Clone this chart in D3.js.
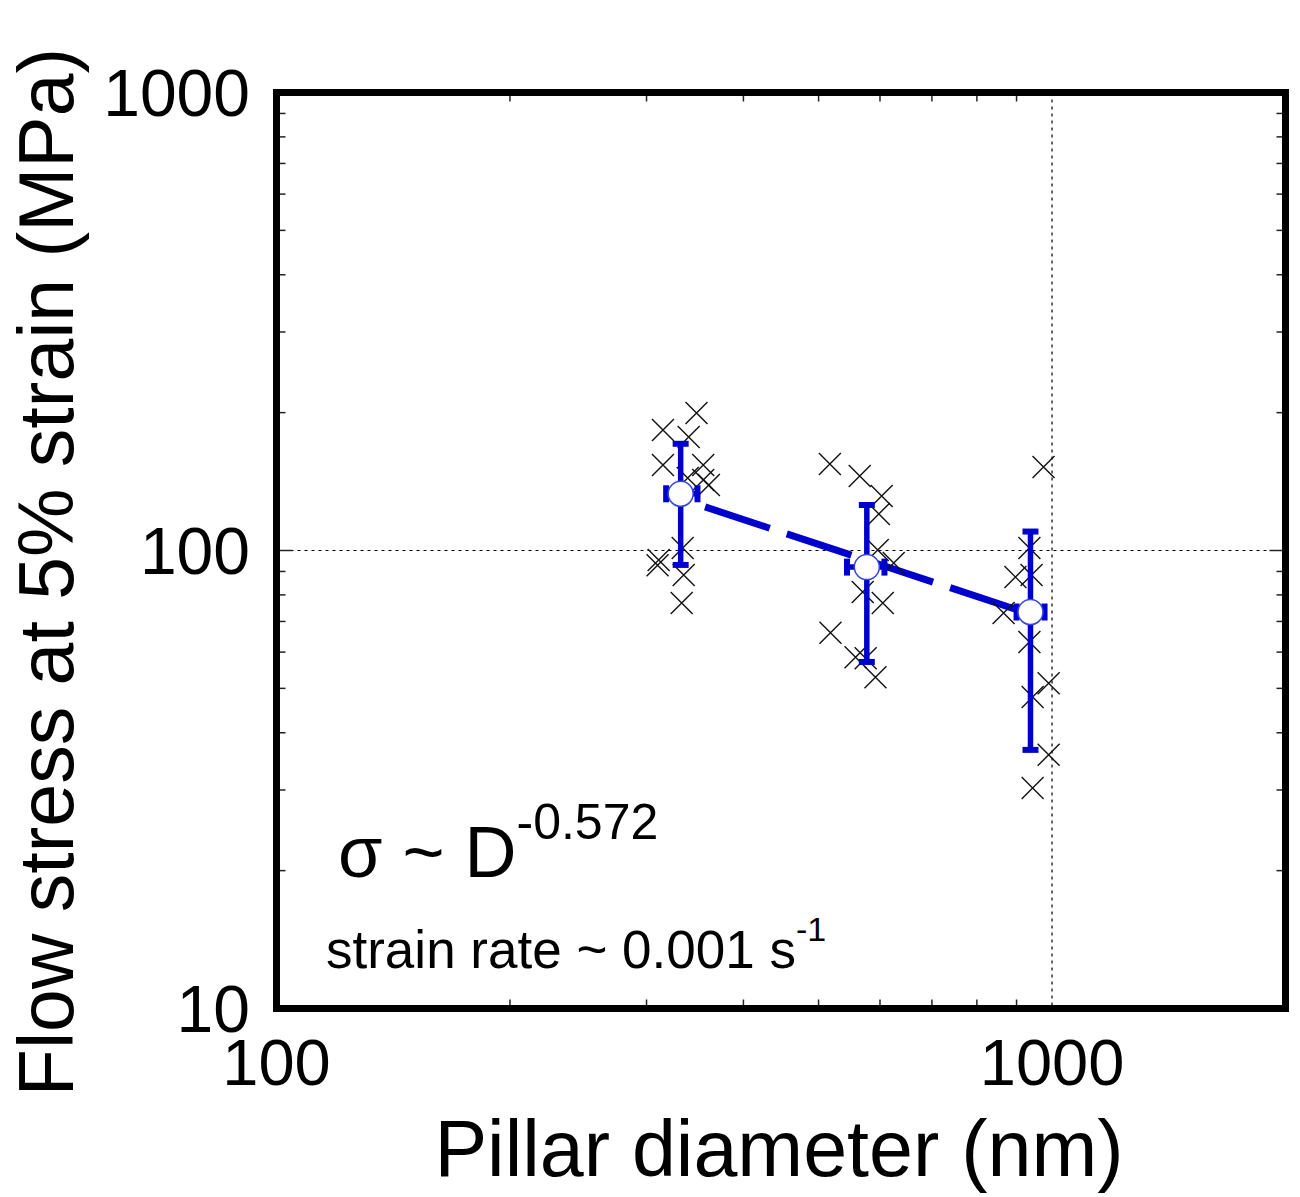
<!DOCTYPE html>
<html>
<head>
<meta charset="utf-8">
<script src="https://cdn.jsdelivr.net/npm/d3@7"></script>
<style>
  body { margin: 0; background: #fff; }
  text { font-family: "Liberation Sans", Arial, sans-serif; fill: #000; }
</style>
</head>
<body>
<div class="plot-container"></div>
<script>
// ---- data ----
const xDomain = [100, 2000];       // pillar diameter, nm
const yDomain = [10, 1000];        // flow stress, MPa
const xTickLabels = [100, 1000];
const yTickLabels = [10, 100, 1000];

// individual pillars (diameter nm, stress MPa)
const pillarsSmall = [
  [348, 199.6], [315, 183.3], [340, 176.9], [315, 153.7], [355, 153.7],
  [339, 144], [355, 142.5], [361, 139], [334, 101.3], [311, 95.3],
  [310, 92.9], [335, 88.4], [333, 76.8]
];
const pillarsMid = [
  [517, 154.5], [565, 145.4], [603, 131.5], [598, 120.2], [596, 100.3],
  [625, 93.9], [570, 81.2], [605, 76.8], [518, 66.1], [558, 58.5],
  [575, 58.2], [592, 52.9]
];
const pillarsLarge = [
  [975, 152.1], [935, 101.3], [897, 87.5], [941, 88.4], [866, 73.0],
  [935, 63.1], [990, 51.3], [944, 47.9], [990, 35.8], [944, 30.3]
];

// group means with error ranges
const meanD    = [332, 577, 938];
const meanS    = [133, 92, 73.4];
const dLow     = [318, 544, 900];
const dHigh    = [349, 608, 978];
const sLow     = [93, 57.1, 36.7];
const sHigh    = [171, 125.7, 110];

// power-law fit endpoints
const fitLine = [{ d: 357, s: 124.5 }, { d: 911, s: 73.8 }];

// ---- layout ----
const W = 1300, H = 1197;
const frame = { left: 276.5, right: 1285.5, top: 92.5, bottom: 1008.5 };
const blue = "#0000cc";

const svg = d3.select("div.plot-container")
              .append("svg")
              .attr("width", W)
              .attr("height", H);

const x = d3.scaleLog().domain(xDomain).range([frame.left, frame.right]);
const y = d3.scaleLog().domain(yDomain).range([frame.bottom, frame.top]);

// minor ticks 2..9 of each decade
let minorTicks = (lo, hi) => {
  let out = [];
  for (let dec = lo; dec < hi; dec *= 10) {
    for (let k = 2; k <= 9; k++) {
      if (dec * k < hi) out.push(dec * k);
    }
  }
  return out;
};
const xMinor = minorTicks(100, 2000);
const yMinor = minorTicks(10, 1000);

// grid lines (major only, inside the frame)
svg.append("line")
   .attr("x1", x(1000)).attr("x2", x(1000))
   .attr("y1", frame.top).attr("y2", frame.bottom)
   .attr("stroke", "#000").attr("stroke-width", 1.2)
   .attr("stroke-dasharray", "3,4");
svg.append("line")
   .attr("x1", frame.left).attr("x2", frame.right)
   .attr("y1", y(100)).attr("y2", y(100))
   .attr("stroke", "#000").attr("stroke-width", 1.2)
   .attr("stroke-dasharray", "3,4");

// ticks pointing inward on all four sides
let ticks = svg.append("g").attr("stroke", "#222").attr("stroke-width", 1.5);
const minorLen = 9, majorLen = 16;
xMinor.forEach((v) => {
  ticks.append("line").attr("x1", x(v)).attr("x2", x(v))
       .attr("y1", frame.bottom).attr("y2", frame.bottom - minorLen);
  ticks.append("line").attr("x1", x(v)).attr("x2", x(v))
       .attr("y1", frame.top).attr("y2", frame.top + minorLen);
});
yMinor.forEach((v) => {
  ticks.append("line").attr("x1", frame.left).attr("x2", frame.left + minorLen)
       .attr("y1", y(v)).attr("y2", y(v));
  ticks.append("line").attr("x1", frame.right).attr("x2", frame.right - minorLen)
       .attr("y1", y(v)).attr("y2", y(v));
});
ticks.append("line").attr("x1", frame.left).attr("x2", frame.left + majorLen)
     .attr("y1", y(100)).attr("y2", y(100));
ticks.append("line").attr("x1", frame.right).attr("x2", frame.right - majorLen)
     .attr("y1", y(100)).attr("y2", y(100));

// fit line (dashed, behind the markers)
svg.append("path")
   .datum(fitLine)
   .attr("d", d3.line().x((p) => x(p.d)).y((p) => y(p.s)))
   .attr("fill", "none")
   .attr("stroke", blue)
   .attr("stroke-width", 7)
   .attr("stroke-dasharray", "68,18");

// crosses for individual pillars
const allPillars = pillarsSmall.concat(pillarsMid, pillarsLarge);
const cs = 11;
svg.append("g")
   .selectAll("path")
   .data(allPillars)
   .join("path")
   .attr("d", (p) => {
     let cx = x(p[0]), cy = y(p[1]);
     return `M${cx - cs},${cy - cs}L${cx + cs},${cy + cs}M${cx - cs},${cy + cs}L${cx + cs},${cy - cs}`;
   })
   .attr("stroke", "#111")
   .attr("stroke-width", 1.4)
   .attr("fill", "none");

// error bars
let groups = meanD.map((d, i) => ({ d: d, s: meanS[i], d0: dLow[i], d1: dHigh[i], s0: sLow[i], s1: sHigh[i] }));
let eb = svg.append("g").attr("stroke", blue).attr("fill", "none");
groups.forEach((g) => {
  let cx = x(g.d), cy = y(g.s);
  eb.append("line").attr("x1", cx).attr("x2", cx)
    .attr("y1", y(g.s0)).attr("y2", y(g.s1)).attr("stroke-width", 5.5);
  [g.s0, g.s1].forEach((v) => {
    eb.append("line").attr("x1", cx - 8).attr("x2", cx + 8)
      .attr("y1", y(v)).attr("y2", y(v)).attr("stroke-width", 6);
  });
  eb.append("line").attr("x1", x(g.d0)).attr("x2", x(g.d1))
    .attr("y1", cy).attr("y2", cy).attr("stroke-width", 5.5);
  [g.d0, g.d1].forEach((v) => {
    eb.append("line").attr("x1", x(v)).attr("x2", x(v))
      .attr("y1", cy - 8.5).attr("y2", cy + 8.5).attr("stroke-width", 6);
  });
});

// mean markers
svg.append("g")
   .selectAll("circle")
   .data(groups)
   .join("circle")
   .attr("cx", (g) => x(g.d))
   .attr("cy", (g) => y(g.s))
   .attr("r", 12.5)
   .attr("fill", "#fff")
   .attr("stroke", "#3344dd")
   .attr("stroke-width", 1.5);

// frame
svg.append("rect")
   .attr("x", frame.left).attr("y", frame.top)
   .attr("width", frame.right - frame.left)
   .attr("height", frame.bottom - frame.top)
   .attr("fill", "none")
   .attr("stroke", "#000")
   .attr("stroke-width", 7);

// tick labels
svg.append("g")
   .selectAll("text")
   .data(yTickLabels)
   .join("text")
   .attr("x", 250)
   .attr("y", (v) => y(v) + 23)
   .attr("text-anchor", "end")
   .attr("font-size", 66)
   .text((v) => v);
svg.append("g")
   .selectAll("text")
   .data(xTickLabels)
   .join("text")
   .attr("x", (v) => x(v))
   .attr("y", 1085)
   .attr("text-anchor", "middle")
   .attr("font-size", 65)
   .text((v) => v);

// axis titles
svg.append("text")
   .attr("x", 779)
   .attr("y", 1176)
   .attr("text-anchor", "middle")
   .attr("font-size", 79)
   .text("Pillar diameter (nm)");
svg.append("text")
   .attr("transform", "translate(73,572) rotate(-90)")
   .attr("text-anchor", "middle")
   .attr("font-size", 77)
   .text("Flow stress at 5% strain (MPa)");

// annotations
let ann1 = svg.append("text").attr("x", 338).attr("y", 877).attr("font-size", 72);
ann1.append("tspan").text("σ ~ D");
ann1.append("tspan").attr("dy", -38).attr("font-size", 50).text("-0.572");

let ann2 = svg.append("text").attr("x", 326).attr("y", 968).attr("font-size", 53);
ann2.append("tspan").text("strain rate ~ 0.001 s");
ann2.append("tspan").attr("dy", -27).attr("font-size", 34).text("-1");
</script>
</body>
</html>
